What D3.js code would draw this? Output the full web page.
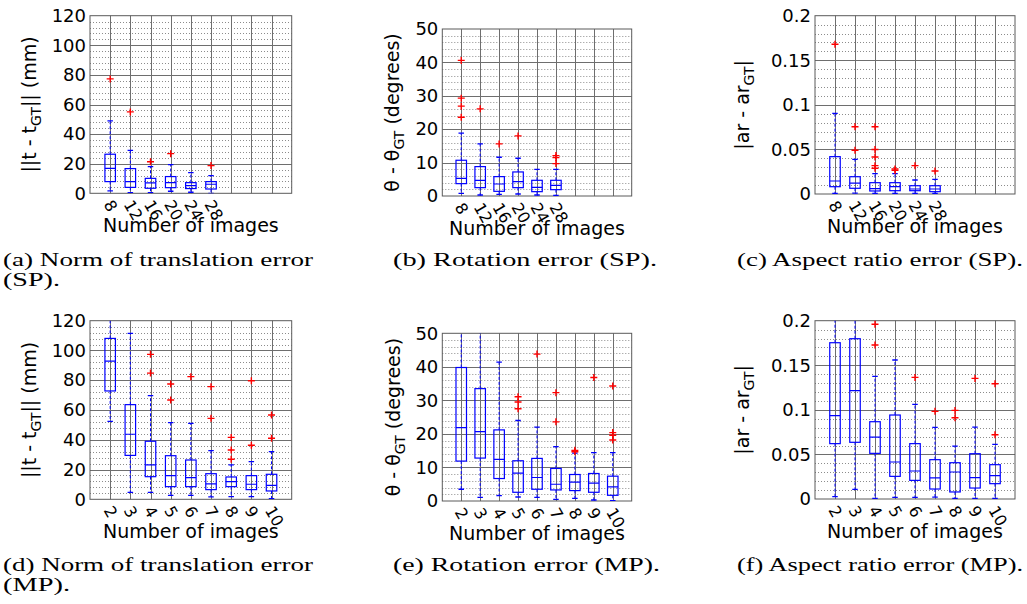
<!DOCTYPE html>
<html>
<head>
<meta charset="utf-8">
<script src="https://cdn.jsdelivr.net/npm/d3@7/dist/d3.min.js"></script>
<style>
  body { margin: 0; background: #fff; }
  svg  { display: block; }
</style>
</head>
<body>
<svg id="fig" width="1027" height="604"></svg>
<script>
// tick labels (number of images)
const spLabels = ["8", "12", "16", "20", "24", "28"];
const mpLabels = ["2", "3", "4", "5", "6", "7", "8", "9", "10"];

// box stats per group: [lower whisker, q1, median, q3, upper whisker]
const transSP = [[1.6, 7.9, 16.9, 26.4, 49], [0.5, 4, 7.9, 16.7, 29], [0.5, 3.4, 7, 10.1, 18],
                 [1.4, 3.8, 7.2, 11.3, 19.4], [0.7, 3.2, 5.2, 7.2, 14], [0, 2.9, 6.1, 7.9, 12]];
const transSPOut = [[77.3], [55], [21.3], [26.8], [], [18.7]];

const rotSP = [[0.8, 3.7, 5.3, 10.7, 18.8], [0.3, 2.5, 4.7, 8.8, 15.6], [0.5, 1.4, 3.6, 5.8, 11.6],
               [0.6, 2.5, 4.3, 7.2, 11.3], [0.3, 1.3, 2.6, 4.7, 8], [0.2, 1.9, 3.2, 4.7, 8]];
const rotSPOut = [[40.6, 29.3, 26.9, 23.6], [26.1], [15.6], [18], [], [12.1, 11.5, 9.7]];

const arSP = [[0.0007, 0.0082, 0.0146, 0.0419, 0.0905], [0.001, 0.0064, 0.0123, 0.0194, 0.0389],
              [0.0007, 0.0034, 0.006, 0.0127, 0.0228], [0.0007, 0.0037, 0.0082, 0.0127, 0.0228],
              [0.0007, 0.0037, 0.0056, 0.0093, 0.0157], [0.0007, 0.0026, 0.0056, 0.0093, 0.0164]];
const arSPOut = [[0.168], [0.0755, 0.049], [0.0755, 0.05, 0.0415, 0.0318, 0.0288],
                 [0.028, 0.0265], [0.0318], [0.0258]];

const transMP = [[52.4, 72.8, 92.9, 108.1, 125], [4.7, 29.5, 43.7, 63.6, 111.5], [4.7, 15.2, 23.1, 39, 69.6],
                 [2.7, 8.5, 15.9, 29.3, 51.5], [2.7, 8.5, 14.6, 26.4, 51], [1.6, 6.5, 10.3, 17.2, 32.7],
                 [1.8, 8.5, 11.9, 15, 23.1], [1.8, 6.5, 10.1, 15.9, 25.3], [0.4, 5.6, 9.4, 16.8, 32]];
const transMPOut = [[], [], [97.4, 84.8], [77.5, 66.7], [82.4], [75.7, 54.4],
                    [41.6, 33.1, 26.9], [79.7, 36.3], [56.6, 41]];

const rotMP = [[3.5, 11.9, 21.9, 39.8, 55], [1.1, 12.8, 20.7, 33.5, 55], [1.6, 6.7, 12.4, 21.2, 41.4],
               [1.2, 2.6, 8.3, 12, 24], [1.1, 3.5, 7, 12.7, 22], [0.5, 3.3, 5, 9.7, 16.2],
               [0.8, 3.1, 5.6, 7.9, 14.3], [0.3, 2.6, 5.3, 8.2, 14.4], [0.1, 1.7, 4.2, 7.4, 14.4]];
const rotMPOut = [[], [], [], [31.1, 29.5, 27.5], [43.8], [32.3, 23.6], [15.1, 14.7], [36.8],
                  [34.3, 20.4, 19.6, 18.2]];

const arMP = [[0.0026, 0.0621, 0.0935, 0.1753, 0.22], [0.0108, 0.0636, 0.1215, 0.1798, 0.22],
              [0.0007, 0.0512, 0.0695, 0.0867, 0.1376], [0.0019, 0.0254, 0.0415, 0.0942, 0.1559],
              [0.0019, 0.0209, 0.0314, 0.0621, 0.1062], [0.0022, 0.0112, 0.0236, 0.0441, 0.0804],
              [0.0007, 0.0079, 0.0303, 0.0407, 0.0594], [0.0007, 0.0123, 0.0239, 0.0508, 0.0807],
              [0.0007, 0.0172, 0.0262, 0.0385, 0.0613]];
const arMPOut = [[], [], [0.196, 0.1727], [], [0.1364], [0.0983], [0.0994, 0.0912], [0.1353],
                 [0.1293, 0.0721]];

// y axis tick values
const transTicks = [0, 20, 40, 60, 80, 100, 120];
const rotTicks   = [0, 10, 20, 30, 40, 50];
const arTicks    = [0, 0.05, 0.1, 0.15, 0.2];

// y labels: [before subscript, subscript, after subscript]
const transLabel = ["||t - t", "GT", "|| (mm)"];
const rotLabel   = ["\u03b8 - \u03b8", "GT", " (degrees)"];
const arLabel    = ["|ar - ar", "GT", "|"];

const xTitle = "Number of images";

const captionsTop = [["(a) Norm of translation error", "(SP)."], ["(b) Rotation error (SP)."],
                     ["(c) Aspect ratio error (SP)."]];
const captionsBottom = [["(d) Norm of translation error", "(MP)."], ["(e) Rotation error (MP)."],
                        ["(f) Aspect ratio error (MP)."]];

const svg = d3.select("#fig");
const BLUE = "#0000ff";
const RED  = "#ff0000";
const TICK_FONT = "DejaVu Sans, sans-serif";

// panel layouts (pixel frame of every axes)
const panels = [
  { id: "a", l: 90,    r: 291.7, t: 15.7,  b: 193.3, stats: transSP, out: transSPOut, labels: spLabels, ticks: transTicks, ylab: transLabel, ylabX: 35.5,  cap: captionsTop[0],    capX: 3,   capY: 265.7, capW: [310, 57] },
  { id: "b", l: 442.3, r: 631.7, t: 29,    b: 196,   stats: rotSP,   out: rotSPOut,   labels: spLabels, ticks: rotTicks,   ylab: rotLabel,   ylabX: 399,   cap: captionsTop[1],    capX: 393, capY: 265.7, capW: [264] },
  { id: "c", l: 815,   r: 1015,  t: 15.7,  b: 194,   stats: arSP,    out: arSPOut,    labels: spLabels, ticks: arTicks,    ylab: arLabel,    ylabX: 749,   cap: captionsTop[2],    capX: 737, capY: 265.7, capW: [286] },
  { id: "d", l: 90,    r: 291.7, t: 320.7, b: 499.3, stats: transMP, out: transMPOut, labels: mpLabels, ticks: transTicks, ylab: transLabel, ylabX: 35.5,  cap: captionsBottom[0], capX: 3,   capY: 570.7, capW: [310, 67] },
  { id: "e", l: 442.3, r: 631.7, t: 333.3, b: 501,   stats: rotMP,   out: rotMPOut,   labels: mpLabels, ticks: rotTicks,   ylab: rotLabel,   ylabX: 400,   cap: captionsBottom[1], capX: 393, capY: 570.7, capW: [267] },
  { id: "f", l: 815,   r: 1015,  t: 320.7, b: 499,   stats: arMP,    out: arMPOut,    labels: mpLabels, ticks: arTicks,    ylab: arLabel,    ylabX: 749,   cap: captionsBottom[2], capX: 737, capY: 570.7, capW: [286] }
];

function drawPanel(p) {
  const g = svg.append("g").attr("class", "panel-" + p.id);
  const yMax = p.ticks[p.ticks.length - 1];
  const step = p.ticks[1] - p.ticks[0];

  const x = d3.scaleLinear().domain([0, 10]).range([p.l, p.r]);
  const y = d3.scaleLinear().domain([0, yMax]).range([p.b, p.t]);

  const clipId = "clip-" + p.id;
  g.append("clipPath").attr("id", clipId)
    .append("rect").attr("x", p.l).attr("y", p.t).attr("width", p.r - p.l).attr("height", p.b - p.t);

  // minor grid (dotted)
  const minor = d3.range(1, Math.round(yMax / step * 5)).map(i => i * step / 5).filter((v, i) => (i + 1) % 5 !== 0);
  g.selectAll("line.minor").data(minor).enter().append("line")
    .attr("class", "minor")
    .attr("x1", p.l).attr("x2", p.r)
    .attr("y1", d => Math.round(y(d)) + 0.5).attr("y2", d => Math.round(y(d)) + 0.5)
    .attr("stroke", "#8c8c8c").attr("stroke-width", 1).attr("stroke-dasharray", "1,2");

  // major grid
  g.selectAll("line.hmajor").data(p.ticks.slice(1, -1)).enter().append("line")
    .attr("class", "hmajor")
    .attr("x1", p.l).attr("x2", p.r)
    .attr("y1", d => Math.round(y(d)) + 0.5).attr("y2", d => Math.round(y(d)) + 0.5)
    .attr("stroke", "#6e6e6e").attr("stroke-width", 1);
  g.selectAll("line.vmajor").data(d3.range(1, 10)).enter().append("line")
    .attr("class", "vmajor")
    .attr("y1", p.t).attr("y2", p.b)
    .attr("x1", d => Math.round(x(d)) + 0.5).attr("x2", d => Math.round(x(d)) + 0.5)
    .attr("stroke", "#6e6e6e").attr("stroke-width", 1);

  // frame
  g.append("rect")
    .attr("x", p.l).attr("y", p.t).attr("width", p.r - p.l).attr("height", p.b - p.t)
    .attr("fill", "none").attr("stroke", "#5a5a5a").attr("stroke-width", 1);

  // boxes
  const BW = 10.5, CAP = 5.5;
  const boxes = g.append("g").attr("clip-path", `url(#${clipId})`)
    .selectAll("g.box").data(p.stats).enter().append("g").attr("class", "box");
  const cx = (d, i) => x(i + 1);

  boxes.append("line")  // upper whisker
    .attr("x1", cx).attr("x2", cx)
    .attr("y1", d => y(d[3])).attr("y2", d => y(d[4]))
    .attr("stroke", BLUE).attr("stroke-dasharray", "3,2");
  boxes.append("line")  // lower whisker
    .attr("x1", cx).attr("x2", cx)
    .attr("y1", d => y(d[1])).attr("y2", d => y(d[0]))
    .attr("stroke", BLUE).attr("stroke-dasharray", "3,2");
  [0, 4].forEach(k => {
    boxes.append("line")
      .attr("x1", (d, i) => cx(d, i) - CAP / 2).attr("x2", (d, i) => cx(d, i) + CAP / 2)
      .attr("y1", d => y(d[k])).attr("y2", d => y(d[k]))
      .attr("stroke", BLUE).attr("stroke-width", 1.3);
  });
  boxes.append("rect")
    .attr("x", (d, i) => cx(d, i) - BW / 2).attr("width", BW)
    .attr("y", d => y(d[3])).attr("height", d => y(d[1]) - y(d[3]))
    .attr("fill", "none").attr("stroke", BLUE).attr("stroke-width", 1.2);
  boxes.append("line")  // median
    .attr("x1", (d, i) => cx(d, i) - BW / 2).attr("x2", (d, i) => cx(d, i) + BW / 2)
    .attr("y1", d => y(d[2])).attr("y2", d => y(d[2]))
    .attr("stroke", BLUE).attr("stroke-width", 1.2);

  // outliers
  const pts = [];
  p.out.forEach((arr, i) => arr.forEach(v => pts.push({ i: i + 1, v })));
  g.append("g").selectAll("path.out").data(pts).enter().append("path")
    .attr("class", "out")
    .attr("d", d => {
      const px = x(d.i), py = y(d.v), s = 3.5;
      return `M${px - s},${py}H${px + s}M${px},${py - s}V${py + s}`;
    })
    .attr("stroke", RED).attr("stroke-width", 1.4).attr("fill", "none");

  // y axis labels
  const yAxis = d3.axisLeft(y).tickValues(p.ticks).tickSize(0).tickPadding(4)
    .tickFormat(d => String(+d.toFixed(2)));
  const ya = g.append("g").attr("transform", `translate(${p.l},0)`).call(yAxis);
  ya.select(".domain").remove();
  ya.selectAll("text").attr("font-family", TICK_FONT).attr("font-size", 18).attr("fill", "#000");

  // x axis labels, rotated
  const xAxis = d3.axisBottom(x).tickValues(d3.range(1, p.labels.length + 1))
    .tickFormat(i => p.labels[i - 1]).tickSize(0);
  const xa = g.append("g").attr("transform", `translate(0,${p.b})`).call(xAxis);
  xa.select(".domain").remove();
  xa.selectAll("text")
    .attr("font-family", TICK_FONT).attr("font-size", 16).attr("fill", "#000")
    .attr("text-anchor", "start")
    .attr("y", 0).attr("dy", 0)
    .attr("transform", "translate(-7.5,11) rotate(60)");

  // x title
  g.append("text")
    .attr("x", (p.l + p.r) / 2).attr("y", p.b + 38.5)
    .attr("text-anchor", "middle")
    .attr("font-family", TICK_FONT).attr("font-size", 19)
    .text(xTitle);

  // y title with subscript
  const yt = g.append("text")
    .attr("transform", `translate(${p.ylabX},${(p.t + p.b) / 2}) rotate(-90)`)
    .attr("text-anchor", "middle")
    .attr("font-family", TICK_FONT).attr("font-size", 19);
  yt.append("tspan").text(p.ylab[0]);
  yt.append("tspan").attr("font-size", 14).attr("dy", 5).text(p.ylab[1]);
  yt.append("tspan").attr("dy", -5).text(p.ylab[2]);

  // caption
  p.cap.forEach((line, k) => {
    svg.append("text")
      .attr("x", p.capX).attr("y", p.capY + k * 20)
      .attr("font-family", "Liberation Serif, serif").attr("font-size", 19)
      .attr("textLength", p.capW[k]).attr("lengthAdjust", "spacingAndGlyphs")
      .text(line);
  });
}

panels.forEach(drawPanel);
</script>
</body>
</html>
